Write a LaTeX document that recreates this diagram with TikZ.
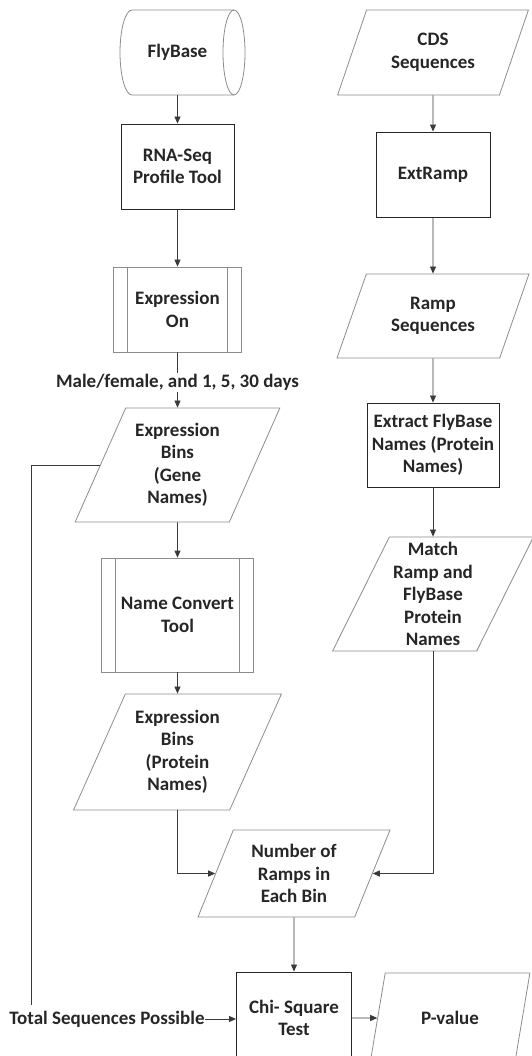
\documentclass[tikz,border=0pt]{standalone}
\usepackage{fontspec}
\setmainfont{Carlito}
\usetikzlibrary{shapes.geometric,arrows.meta}
\definecolor{txt}{HTML}{262626}
\definecolor{grayline}{HTML}{8C8C8C}
\definecolor{darkline}{HTML}{262626}
\definecolor{connc}{HTML}{3A3A3A}
\begin{document}
\begin{tikzpicture}[x=1pt,y=-1pt,
  every node/.style={text=txt, inner sep=0pt, align=center, font=\fontsize{19}{22.5}\selectfont\bfseries},
  boxn/.style={rectangle, draw=darkline, line width=0.9pt},
  proc/.style={rectangle, draw=grayline, line width=0.8pt,
    path picture={\draw[grayline,line width=1.2pt]
      ([xshift=14pt]path picture bounding box.north west) -- ([xshift=14pt]path picture bounding box.south west)
      ([xshift=-14pt]path picture bounding box.north east) -- ([xshift=-14pt]path picture bounding box.south east);}},
  para/.style 2 args={trapezium, trapezium left angle=#1, trapezium right angle=#2,
    trapezium stretches=true, draw=grayline, line width=0.8pt},
  cylline/.style={draw=grayline, line width=0.8pt},
  arr/.style={draw=connc, line width=0.8pt, -{Triangle[length=7pt,width=6pt]}},
  plain/.style={draw=connc, line width=0.8pt}
]
\useasboundingbox (0,0) rectangle (531,1056);

% left column
\draw[cylline] (234,10) -- (132,10) arc[start angle=-90,end angle=-270,x radius=12,y radius=42.5] -- (234,95);
\draw[cylline] (234,52.5) ellipse[x radius=11, y radius=42.5];
\node[rectangle, minimum width=125pt, minimum height=85pt] (fly) at (177.5,52.5) {FlyBase};

\node[boxn, minimum width=113pt, minimum height=85pt] (rna) at (177.5,166.5) {RNA-Seq\\Profile Tool};
\node[proc, minimum width=128pt, minimum height=85pt] (expon) at (177.5,309.5) {Expression\\On};
\node[para={63.8}{116.2}, minimum width=205pt, minimum height=114pt] (gene) at (177.5,465) {Expression\\Bins\\(Gene\\Names)};
\node[proc, minimum width=152pt, minimum height=114pt] (namecv) at (177.5,615) {Name Convert\\Tool};
\node[para={63.4}{116.6}, minimum width=208pt, minimum height=116pt] (prot) at (177.5,752) {Expression\\Bins\\(Protein\\Names)};

% right column
\node[para={64.3}{115.7}, minimum width=191pt, minimum height=85pt] (cds) at (433,52.5) {CDS\\Sequences};
\node[boxn, minimum width=114pt, minimum height=85pt] (ext) at (433,174.5) {ExtRamp};
\node[para={64}{116}, minimum width=192pt, minimum height=84pt] (ramp) at (433,316) {Ramp\\Sequences};
\node[boxn, minimum width=132pt, minimum height=84pt] (extr) at (433,445) {Extract FlyBase\\Names (Protein\\Names)};
\node[para={63.4}{116.6}, minimum width=201pt, minimum height=114pt] (match) at (433,594) {Match\\Ramp and\\FlyBase\\Protein\\Names};

% bottom
\node[para={67}{113}, minimum width=192pt, minimum height=87pt] (num) at (294,873.5) {Number of\\Ramps in\\Each Bin};
\node[boxn, minimum width=115pt, minimum height=92pt] (chi) at (294,1018) {Chi- Square\\Test};
\node[para={63.4}{116.6}, minimum width=160pt, minimum height=90pt] (pval) at (450,1018) {P-value};
\node (tot) at (107,1019) {Total Sequences Possible};
\coordinate (fb) at (31.5,1005);

% connectors
\draw[arr] (fly) -- (rna);
\draw[arr] (rna) -- (expon);
\draw[arr] (expon) -- node[pos=0.55, fill=white, inner sep=1.5pt] (mf) {Male/female, and 1, 5, 30 days} (gene);
\draw[arr] (gene) -- (namecv);
\draw[arr] (namecv) -- (prot);
\draw[arr] (prot.south) |- (num.west);
\draw[arr] (cds) -- (ext);
\draw[arr] (ext) -- (ramp);
\draw[arr] (ramp) -- (extr);
\draw[arr] (extr) -- (match);
\draw[arr] (match.south) |- (num.east);
\draw[arr] (num) -- (chi);
\draw[plain] (gene.west) -| (fb);
\draw[arr] (tot.east) -- (tot.east -| chi.west);
\draw[arr] (chi) -- (pval);
\end{tikzpicture}
\end{document}
